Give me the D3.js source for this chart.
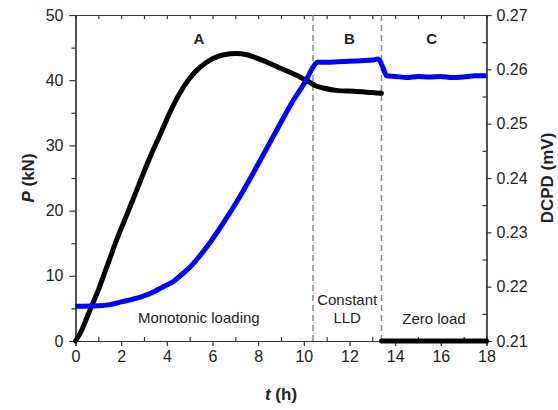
<!DOCTYPE html>
<html lang="en">
<head>
<meta charset="UTF-8">
<title>P and DCPD vs time</title>
<style>
  body { margin: 0; background: #fff; }
  text { font-family: "Liberation Sans", Arial, sans-serif; fill: #222; }
</style>
</head>
<body>
<script src="https://d3js.org/d3.v7.min.js"></script>
<script>
// load P (kN) vs time t (h)
let tLoad = [0, 0.25, 0.5, 0.71, 1.0, 1.22, 1.5, 1.8, 2.1, 2.39, 2.7, 2.97, 3.3, 3.7, 4.1, 4.5, 5.0, 5.46, 6.0, 6.5, 7.06, 7.5, 8.08, 8.5, 9.0, 9.4, 9.83, 10.2, 10.49, 10.85, 11.5, 12.2, 13.0, 13.4];
let pLoad = [0, 1.5, 3.6, 5.4, 7.8, 9.9, 12.6, 15.5, 18.1, 20.6, 23.3, 25.7, 28.5, 31.6, 34.8, 37.6, 40.3, 42.0, 43.3, 43.9, 44.1, 43.9, 43.2, 42.6, 41.8, 41.2, 40.5, 39.8, 39.2, 38.8, 38.4, 38.3, 38.1, 38.0];
let tZero = [13.4, 18];
let pZero = [0, 0];

// DCPD (mV) vs time
let tDcpd = [0, 1.0, 1.5, 2.0, 2.68, 3.3, 3.85, 4.3, 4.58, 5.02, 5.31, 5.75, 6.47, 7.2, 7.94, 8.81, 9.54, 10.1, 10.42, 10.6, 11.0, 11.5, 12.0, 12.5, 13.0, 13.26, 13.45, 13.63, 14.0, 14.5, 15.0, 15.5, 16.0, 16.5, 17.0, 17.5, 18.0];
let dcpd = [0.2164, 0.2165, 0.2167, 0.2172, 0.2179, 0.2188, 0.2200, 0.2210, 0.2220, 0.2236, 0.2250, 0.2273, 0.2317, 0.2366, 0.2421, 0.2488, 0.2543, 0.2580, 0.2605, 0.2613, 0.2613, 0.2614, 0.2615, 0.2616, 0.2617, 0.2619, 0.2605, 0.2588, 0.2587, 0.2585, 0.2587, 0.2586, 0.2587, 0.2585, 0.2586, 0.2588, 0.2588];

// stage boundaries and labels
let stageLines = [10.4, 13.4];
let stageLetters = [{ t: 5.4, s: 'A' }, { t: 12.0, s: 'B' }, { t: 15.6, s: 'C' }];

let xTicks = [0, 2, 4, 6, 8, 10, 12, 14, 16, 18];
let yTicks = [0, 10, 20, 30, 40, 50];
let y2Ticks = [0.21, 0.22, 0.23, 0.24, 0.25, 0.26, 0.27];

let m = { t: 15, b: 69, l: 75.5, r: 71.5 };
let W = 558, H = 410;
let w = W - m.l - m.r;
let h = H - m.t - m.b;

let s = d3.select('body').append('svg')
  .attr('width', W)
  .attr('height', H);

let g = s.append('g').attr('transform', `translate(${m.l},${m.t})`);

let x = d3.scaleLinear().domain([0, 18]).range([0, w]);
let y = d3.scaleLinear().domain([0, 50]).range([h, 0]);
let y2 = d3.scaleLinear().domain([0.21, 0.27]).range([h, 0]);

// minor ticks (inside)
g.append('g').call(d3.axisTop(x).ticks(18).tickSize(-4).tickFormat(''));
g.append('g').attr('transform', `translate(0,${h})`)
  .call(d3.axisBottom(x).tickValues(d3.range(1, 18, 2)).tickSize(-4).tickFormat(''));
g.append('g').call(d3.axisLeft(y).tickValues([5, 15, 25, 35, 45]).tickSize(4).tickFormat(''));
g.append('g').attr('transform', `translate(${w},0)`)
  .call(d3.axisRight(y2).tickValues(d3.range(0.215, 0.27, 0.01)).tickSize(-4).tickFormat(''));

// main axes
let xa = g.append('g').attr('transform', `translate(0,${h})`)
  .call(d3.axisBottom(x).tickValues(xTicks).tickSize(5).tickPadding(5).tickFormat(d3.format('d')));
let ya = g.append('g')
  .call(d3.axisLeft(y).tickValues(yTicks).tickSize(6).tickPadding(6));
let y2a = g.append('g').attr('transform', `translate(${w},0)`)
  .call(d3.axisRight(y2).tickValues(y2Ticks).tickSize(5).tickPadding(5).tickFormat(d3.format('.2f')));

[xa, ya, y2a].forEach(a => a.selectAll('text').style('font-size', '16px').attr('fill', '#222'));
g.selectAll('.domain, .tick line').attr('stroke', '#333').attr('stroke-width', 1.2);

// stage separators
g.selectAll('.stage')
  .data(stageLines)
  .enter().append('line')
  .attr('class', 'stage')
  .attr('x1', d => x(d)).attr('x2', d => x(d))
  .attr('y1', 0).attr('y2', h)
  .attr('stroke', '#888')
  .attr('stroke-width', 1.5)
  .attr('stroke-dasharray', '6,4');

// curves
let lineP = d3.line().x(d => x(d[0])).y(d => y(d[1])).curve(d3.curveMonotoneX);
let lineD = d3.line().x(d => x(d[0])).y(d => y2(d[1])).curve(d3.curveMonotoneX);

g.append('path')
  .datum(d3.zip(tLoad, pLoad))
  .attr('d', lineP)
  .attr('fill', 'none').attr('stroke', '#000').attr('stroke-width', 5).attr('stroke-linecap', 'round');

g.append('path')
  .datum(d3.zip(tZero, pZero))
  .attr('d', lineP)
  .attr('fill', 'none').attr('stroke', '#000').attr('stroke-width', 5).attr('stroke-linecap', 'round');

g.append('path')
  .datum(d3.zip(tDcpd, dcpd))
  .attr('d', lineD)
  .attr('fill', 'none').attr('stroke', '#0000ff').attr('stroke-width', 5).attr('stroke-linejoin', 'round');

// stage text
g.selectAll('.letter')
  .data(stageLetters)
  .enter().append('text')
  .attr('x', d => x(d.t)).attr('y', 29)
  .attr('text-anchor', 'middle')
  .style('font-size', '15px').style('font-weight', 'bold')
  .text(d => d.s);

let note = (t, yy, str) => g.append('text')
  .attr('x', x(t)).attr('y', yy)
  .attr('text-anchor', 'middle')
  .style('font-size', '15px')
  .text(str);
note(5.4, 308, 'Monotonic loading');
note(11.9, 290, 'Constant');
note(11.9, 308, 'LLD');
note(15.7, 309, 'Zero load');

// axis titles
let tt = s.append('text')
  .attr('x', m.l + w / 2).attr('y', 400)
  .attr('text-anchor', 'middle')
  .style('font-size', '17px').style('font-weight', 'bold');
tt.append('tspan').style('font-style', 'italic').text('t');
tt.append('tspan').text(' (h)');

let pt = s.append('text')
  .attr('transform', `translate(34,${m.t + h / 2}) rotate(-90)`)
  .attr('text-anchor', 'middle')
  .style('font-size', '17px').style('font-weight', 'bold');
pt.append('tspan').style('font-style', 'italic').text('P');
pt.append('tspan').text(' (kN)');

s.append('text')
  .attr('transform', `translate(553,${m.t + h / 2}) rotate(-90)`)
  .attr('text-anchor', 'middle')
  .style('font-size', '17px').style('font-weight', 'bold')
  .text('DCPD (mV)');
</script>
</body>
</html>
